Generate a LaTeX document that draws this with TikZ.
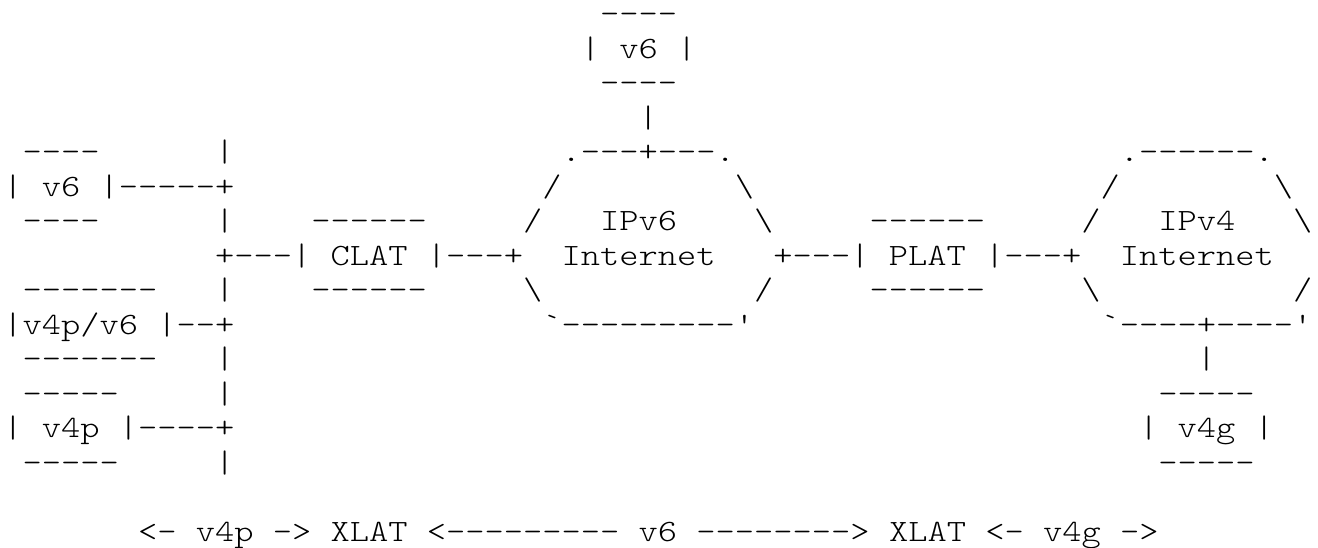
\documentclass[tikz,border=0pt]{standalone}
\usepackage{fontspec}
\setmonofont[FakeStretch=1.183]{lmmonolt10-regular.otf}
\begin{document}
\begin{tikzpicture}[x=0.5pt,y=-0.5pt,
		ascii/.style={anchor=base west,inner sep=0pt,outer sep=0pt,font={\fontsize{15.5pt}{15.5pt}\ttfamily}}]
	\useasboundingbox (0,0) rectangle (1318,547);
	% row/column/text, one character cell is 19.25 wide and 34.5 high
	\foreach \row/\col/\txt in {0/31/----, 1/30/| v6 |, 2/31/----, 3/33/|,
		4/1/----, 4/11/|, 4/29/.---+---., 4/58/.------.,
		5/0/| v6 |-----+, 5/28/\slash, 5/38/\textbackslash, 5/57/\slash, 5/66/\textbackslash,
		6/1/----, 6/11/|, 6/16/------, 6/27/\slash, 6/31/IPv6, 6/39/\textbackslash,
		6/45/------, 6/56/\slash, 6/60/IPv4, 6/67/\textbackslash,
		7/11/+---| CLAT |---+, 7/29/Internet, 7/40/+---| PLAT |---+, 7/58/Internet,
		8/1/-------, 8/11/|, 8/16/------, 8/27/\textbackslash, 8/39/\slash,
		8/45/------, 8/56/\textbackslash, 8/67/\slash,
		9/0/|v4p\slash v6 |--+, 9/28/`---------', 9/57/`----+----',
		10/1/-------, 10/11/|, 10/62/|,
		11/1/-----, 11/11/|, 11/60/-----,
		12/0/| v4p |----+, 12/59/| v4g |,
		13/1/-----, 13/11/|, 13/60/-----,
		15/7/<- v4p -> XLAT <--------- v6 --------> XLAT <- v4g ->}{
		\node[ascii] (s\row-\col) at (3.375+19.25*\col, 23.5+34.5*\row) {\txt};
	}
\end{tikzpicture}
\end{document}
